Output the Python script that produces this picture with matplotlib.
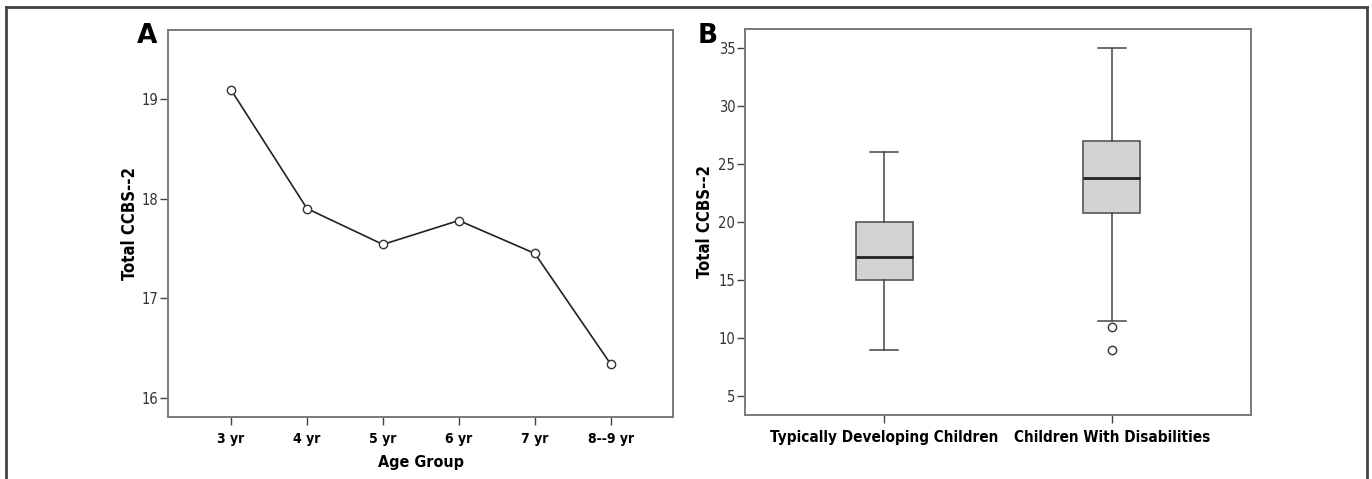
#!/usr/bin/env python3
"""Two-panel figure: mean Total CCBS-2 by age group (A) and by group (B)."""

import matplotlib
matplotlib.use("Agg")
import matplotlib.pyplot as plt
from matplotlib.lines import Line2D

# Panel A: mean score per age group
age_groups = ["3 yr", "4 yr", "5 yr", "6 yr", "7 yr", "8--9 yr"]
mean_scores = [19.09, 17.90, 17.54, 17.78, 17.45, 16.34]

# Panel B: box plot summaries
groups = ["Typically Developing Children", "Children With Disabilities"]
box_q1 = [15.0, 20.8]
box_med = [17.0, 23.75]
box_q3 = [20.0, 27.0]
whisk_lo = [9.0, 11.5]
whisk_hi = [26.0, 35.0]
outliers = [[], [11.0, 9.0]]

plt.rcParams["font.family"] = ["DejaVu Sans"]
plt.rcParams["font.stretch"] = "condensed"

W, H = 1372, 479
fig = plt.figure(figsize=(W / 100, H / 100), dpi=100)


def px_axes(left, top, right, bottom):
    return fig.add_axes([left / W, 1 - bottom / H, (right - left) / W, (bottom - top) / H])


def style(ax, xsize):
    for s in ax.spines.values():
        s.set_color("#7a7a7a")
        s.set_linewidth(1.4)
    ax.tick_params(axis="both", direction="out", length=6, width=1, color="#444444")
    ax.tick_params(axis="y", labelsize=10.5, labelcolor="#333333", pad=1)
    ax.tick_params(axis="x", labelsize=xsize, pad=5)
    for lab in ax.get_xticklabels():
        lab.set_fontweight("bold")
        lab.set_fontstretch("condensed")


# outer frame (top, left, right)
frame_kw = dict(color="#444444", linewidth=2, transform=fig.transFigure)
fig.add_artist(Line2D([6 / W, 1367 / W], [1 - 7 / H, 1 - 7 / H], **frame_kw))
fig.add_artist(Line2D([6 / W, 6 / W], [0, 1 - 7 / H], **frame_kw))
fig.add_artist(Line2D([1367 / W, 1367 / W], [0, 1 - 7 / H], **frame_kw))

# ---- Panel A ----
axA = px_axes(168, 30, 673, 417)
x = list(range(len(age_groups)))
axA.plot(x, mean_scores, color="#222222", linewidth=1.2, marker="o",
         markersize=6, markerfacecolor="white", markeredgecolor="#333333",
         markeredgewidth=1.0)
axA.set_xlim(-0.83, 5.82)
axA.set_ylim(15.81, 19.69)
axA.set_yticks([16, 17, 18, 19])
axA.set_xticks(x)
axA.set_xticklabels(age_groups)
style(axA, 10)
axA.set_xlabel("Age Group", fontsize=11.5, fontweight="bold", labelpad=6)
axA.set_ylabel("Total CCBS--2", fontsize=12, fontweight="bold")
axA.yaxis.set_label_coords(-0.058, 0.5)
fig.text(137 / W, 1 - 23 / H, "A", fontsize=19, fontweight="bold",
         ha="left", va="top", fontstretch="normal")

# ---- Panel B ----
axB = px_axes(745, 29, 1251, 415)
stats = []
for i, name in enumerate(groups):
    stats.append(dict(label=name, q1=box_q1[i], med=box_med[i], q3=box_q3[i],
                      whislo=whisk_lo[i], whishi=whisk_hi[i], fliers=outliers[i]))
axB.bxp(stats, positions=[1, 2], widths=0.25, patch_artist=True,
        boxprops=dict(facecolor="#d3d3d3", edgecolor="#555555", linewidth=1.2),
        medianprops=dict(color="#222222", linewidth=2),
        whiskerprops=dict(color="#444444", linewidth=1.1),
        capprops=dict(color="#444444", linewidth=1.1),
        flierprops=dict(marker="o", markersize=6, markerfacecolor="white",
                        markeredgecolor="#333333", markeredgewidth=1.0))
axB.set_xlim(0.39, 2.61)
axB.set_ylim(3.39, 36.6)
axB.set_yticks([5, 10, 15, 20, 25, 30, 35])
style(axB, 11)
axB.set_ylabel("Total CCBS--2", fontsize=12, fontweight="bold")
axB.yaxis.set_label_coords(-0.062, 0.5)
fig.text(698 / W, 1 - 23 / H, "B", fontsize=19, fontweight="bold",
         ha="left", va="top", fontstretch="normal")

fig.savefig("out.png", dpi=100)
